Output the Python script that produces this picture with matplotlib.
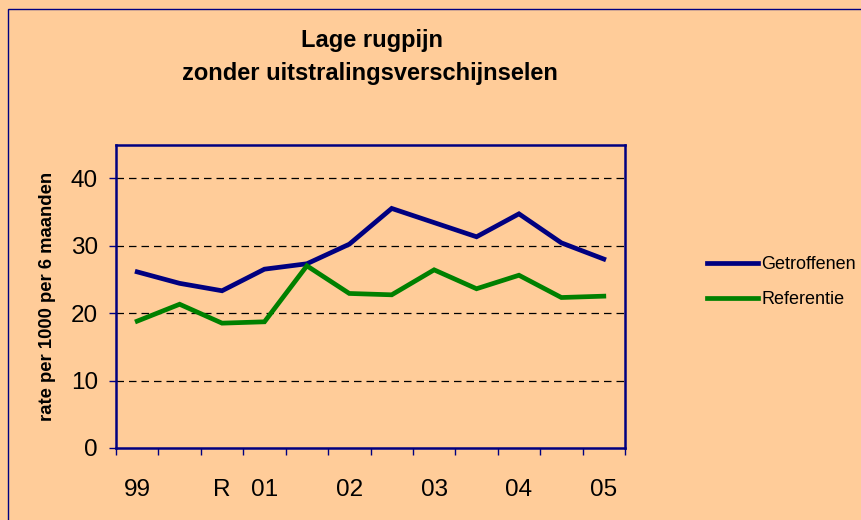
import matplotlib.pyplot as plt
from matplotlib.patches import Rectangle

plt.rcParams["font.family"] = ["Liberation Sans", "DejaVu Sans"]

# categorieën (halfjaren), alleen sommige krijgen een label
x_labels = ["99", "", "R", "01", "", "02", "", "03", "", "04", "", "05"]
getroffenen = [26.1, 24.4, 23.3, 26.5, 27.3, 30.2, 35.5, 33.4, 31.3, 34.7, 30.4, 28.0]
referentie = [18.8, 21.3, 18.5, 18.7, 27.0, 22.9, 22.7, 26.4, 23.6, 25.6, 22.3, 22.5]

BG = "#FFCC99"
NAVY = "#000080"
GREEN = "#008000"

fig = plt.figure(figsize=(8.62, 5.2), dpi=100, facecolor=BG)
# rand van het grafiekvlak (alleen links/boven zichtbaar)
fig.patches.append(Rectangle((8 / 862, -0.1), 1.2, (511 / 520) + 0.1,
                             transform=fig.transFigure, fill=False,
                             edgecolor=NAVY, linewidth=1.0, zorder=0))

ax = fig.add_axes([116 / 862, 72 / 520, 509 / 862, 303 / 520])
ax.set_facecolor(BG)

xs = list(range(len(x_labels)))
ax.plot(xs, getroffenen, color=NAVY, linewidth=3.4, label="Getroffenen",
        solid_joinstyle="miter", zorder=3)
ax.plot(xs, referentie, color=GREEN, linewidth=3.4, label="Referentie",
        solid_joinstyle="miter", zorder=3)

ax.set_xlim(-0.5, len(x_labels) - 0.5)
ax.set_ylim(0, 44.9)
ax.set_yticks([0, 10, 20, 30, 40])

ax.set_xticks(xs)
ax.set_xticklabels(x_labels)
ax.set_xticks([i - 0.5 for i in range(len(x_labels) + 1)], minor=True)
ax.tick_params(axis="x", which="major", length=0, pad=22, labelsize=17.5)
ax.tick_params(axis="x", which="minor", length=5, width=1, color=NAVY,
               direction="out")
ax.tick_params(axis="y", length=5, width=1, color=NAVY, pad=8, labelsize=17.5)

for y in [10, 20, 30, 40]:
    ax.axhline(y, color="black", linewidth=0.9, linestyle=(0, (6, 4)), zorder=1)

for side in ["left", "right", "top", "bottom"]:
    ax.spines[side].set_color(NAVY)
    ax.spines[side].set_linewidth(1.8)

ax.set_ylabel("rate per 1000 per 6 maanden", fontsize=13.3, fontweight="bold",
              labelpad=11)

fig.text(372 / 862, 1 - 47 / 520, "Lage rugpijn", ha="center", va="baseline",
         fontsize=17, fontweight="bold")
fig.text(370 / 862, 1 - 80 / 520, "zonder uitstralingsverschijnselen",
         ha="center", va="baseline", fontsize=17, fontweight="bold")

fig.legend(loc="upper left", bbox_to_anchor=(700 / 862, 1 - 249 / 520),
           frameon=False, fontsize=13, handlelength=2.8, handletextpad=0.2,
           labelspacing=1.0, borderaxespad=0)

fig.savefig("out.png", dpi=100, facecolor=BG)
